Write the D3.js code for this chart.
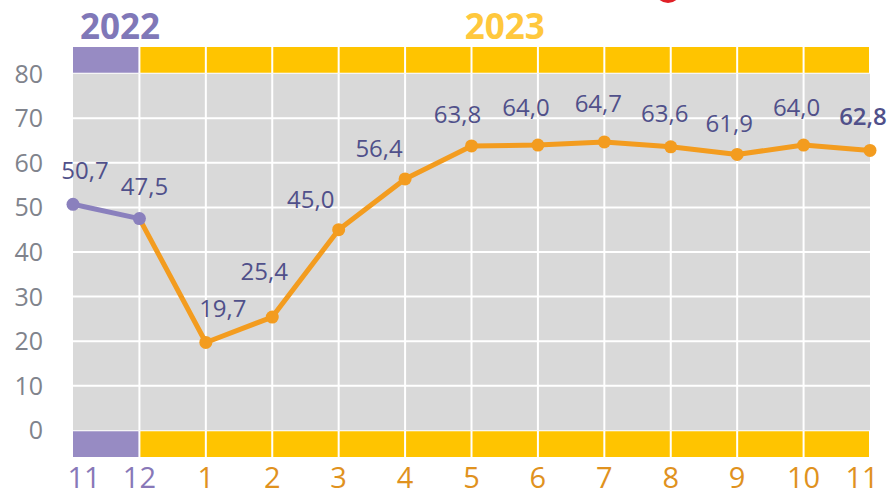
<!DOCTYPE html>
<html>
<head>
<meta charset="utf-8">
<script src="https://cdn.jsdelivr.net/npm/d3@7"></script>
<style>
  body { margin: 0; background: #fff; }
  svg { display: block; font-family: "Open Sans", sans-serif; }
</style>
</head>
<body>
<div class="chart"></div>
<script>
// months shown on the x axis (Nov 2022 .. Nov 2023)
const months = ["11", "12", "1", "2", "3", "4", "5", "6", "7", "8", "9", "10", "11"];
const years = [2022, 2022, 2023, 2023, 2023, 2023, 2023, 2023, 2023, 2023, 2023, 2023, 2023];
const values = [50.7, 47.5, 19.7, 25.4, 45.0, 56.4, 63.8, 64.0, 64.7, 63.6, 61.9, 64.0, 62.8];
const yTicks = [0, 10, 20, 30, 40, 50, 60, 70, 80];
// manual nudges of the value labels (dx, dy from the point)
const labelNudge = [
  [12, -25], [5, -24], [17, -25], [-8, -37], [-28, -22], [-26, -22], [-14, -23],
  [-12, -29], [-6, -30], [-6, -25], [-8, -22], [-7, -29], [-7, -25]
];

const W = 892, H = 495;
const col = { 2022: "#978bc3", 2023: "#ffc400" };
const lineCol = { 2022: "#8a80bd", 2023: "#f39c1f" };
const tickCol = { 2022: "#8878b8", 2023: "#e0921e" };

const svg = d3.select(".chart").append("svg").attr("width", W).attr("height", H);

const x = d3.scaleLinear().domain([0, months.length - 1]).range([73, 870]);
const y = d3.scaleLinear().domain([-6, 86]).range([457, 47]);

// grey plot area
svg.append("rect")
  .attr("x", x(0)).attr("y", y(80))
  .attr("width", x(12) - x(0)).attr("height", y(0) - y(80))
  .attr("fill", "#d9d9d9");

// horizontal grid
svg.append("g").selectAll("line")
  .data(yTicks.slice(1, -1))
  .join("line")
  .attr("x1", x(0)).attr("x2", x(12))
  .attr("y1", d => y(d)).attr("y2", d => y(d))
  .attr("stroke", "#fff").attr("stroke-width", 2);

// vertical grid
svg.append("g").selectAll("line")
  .data(d3.range(1, 12))
  .join("line")
  .attr("x1", d => x(d)).attr("x2", d => x(d))
  .attr("y1", y(80)).attr("y2", y(0))
  .attr("stroke", "#fff").attr("stroke-width", 2);

// year bands on top and bottom
const cells = d3.range(0, 12);
[[80, 86], [-6, 0]].forEach(([lo, hi]) => {
  svg.append("g").selectAll("rect")
    .data(cells)
    .join("rect")
    .attr("x", d => x(d) + (d === 0 ? 0 : 1))
    .attr("width", d => x(d + 1) - x(d) - (d === 0 ? 1 : 2))
    .attr("y", y(hi) + (hi === 86 ? 0 : 1))
    .attr("height", y(lo) - y(hi) - 1)
    .attr("fill", d => col[years[d + 1]]);
});

// y axis labels
svg.append("g").selectAll("text")
  .data(yTicks)
  .join("text")
  .attr("x", 43).attr("y", d => y(d) + 9)
  .attr("text-anchor", "end")
  .attr("font-size", 25)
  .attr("fill", "#80838c")
  .text(d => d);

// x axis labels
svg.append("g").selectAll("text")
  .data(months)
  .join("text")
  .attr("x", (d, i) => Math.min(Math.max(x(i), 84), 862))
  .attr("y", 488)
  .attr("text-anchor", "middle")
  .attr("font-size", 29)
  .attr("fill", (d, i) => tickCol[years[i]])
  .text(d => d);

// year titles
svg.append("text")
  .attr("x", x(0) + 7).attr("y", 39)
  .attr("font-size", 35).attr("font-weight", "bold")
  .attr("fill", "#8078b8")
  .text("2022");
svg.append("text")
  .attr("x", (x(1) + x(12)) / 2).attr("y", 39)
  .attr("text-anchor", "middle")
  .attr("font-size", 35).attr("font-weight", "bold")
  .attr("fill", "#ffc83d")
  .text("2023");

// red mark cut off at the top edge
svg.append("ellipse")
  .attr("cx", 668).attr("cy", -10).attr("rx", 13).attr("ry", 13)
  .attr("fill", "#e02027");

// lines
const pts = values.map((v, i) => ({ v, i, year: years[i] }));
const line = d3.line().x(d => x(d.i)).y(d => y(d.v));
svg.append("path")
  .datum(pts.slice(1))
  .attr("fill", "none")
  .attr("stroke", lineCol[2023])
  .attr("stroke-width", 5)
  .attr("stroke-linejoin", "round")
  .attr("d", line);
svg.append("path")
  .datum(pts.slice(0, 2))
  .attr("fill", "none")
  .attr("stroke", lineCol[2022])
  .attr("stroke-width", 5)
  .attr("d", line);

// markers
svg.append("g").selectAll("circle")
  .data(pts)
  .join("circle")
  .attr("cx", d => x(d.i)).attr("cy", d => y(d.v))
  .attr("r", 6.5)
  .attr("fill", d => lineCol[d.year]);

// value labels
const fmt = d3.format(".1f");
svg.append("g").selectAll("text")
  .data(pts)
  .join("text")
  .attr("x", d => x(d.i) + labelNudge[d.i][0])
  .attr("y", d => y(d.v) + labelNudge[d.i][1])
  .attr("text-anchor", "middle")
  .attr("font-size", 24)
  .attr("fill", "#50508a")
  .attr("font-weight", (d, i) => i === 12 ? 600 : "normal")
  .text(d => fmt(d.v).replace(".", ","));
</script>
</body>
</html>
